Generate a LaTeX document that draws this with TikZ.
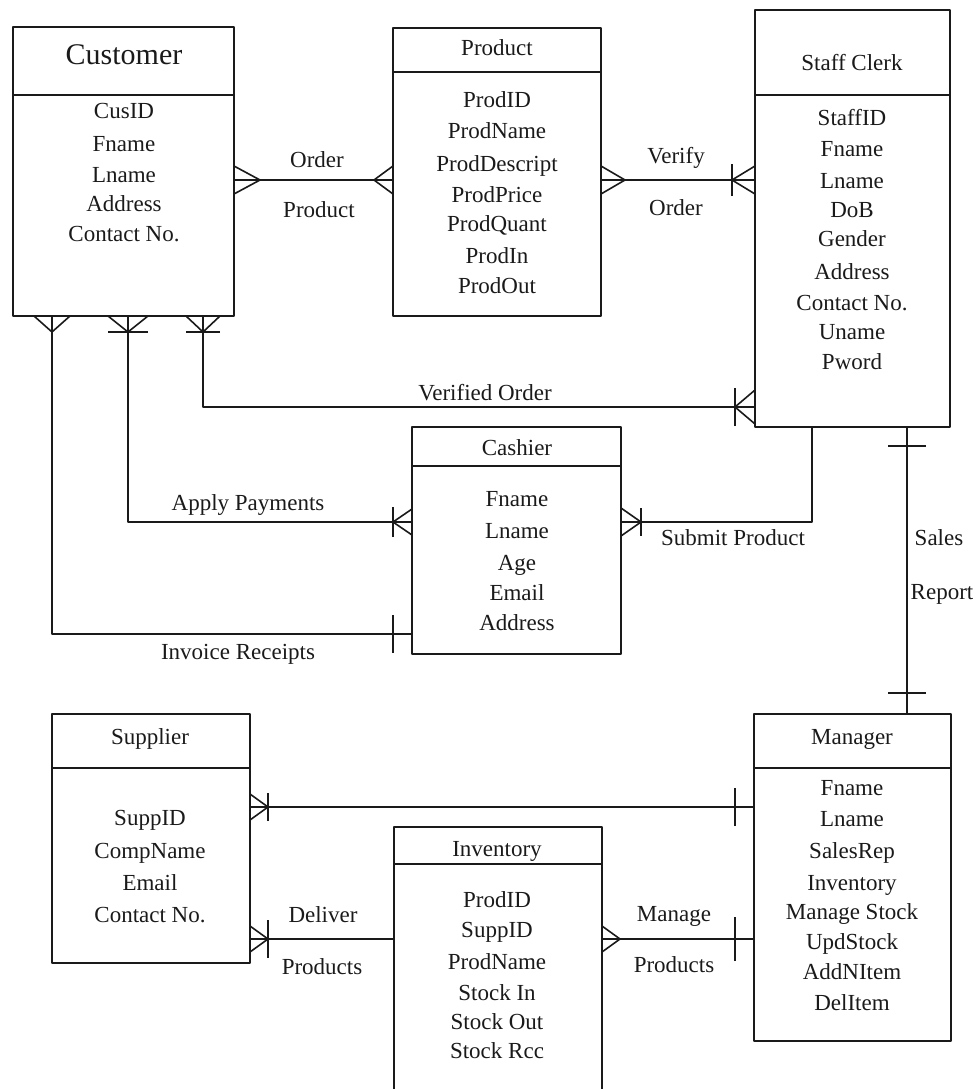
\documentclass[tikz,border=0pt]{standalone}
\usepackage{fontspec}
\setmainfont{Liberation Serif}
\usetikzlibrary{calc}
\definecolor{ink}{HTML}{1A1A1A}
\newcommand{\crowfoot}[4]{\draw[shift={(#1)},rotate=#2] (0,-#3) -- (#4,0) -- (0,#3);}
\newcommand{\crowbar}[4]{\draw[shift={(#1)},rotate=#2] (#4,-#3) -- (#4,#3);}
\begin{document}
\begin{tikzpicture}[x=1pt,y=-1pt,line width=1.6pt,draw=ink,line join=round,
  every node/.style={text=ink},
  ent/.style={draw=ink, rectangle, inner sep=0pt, outer sep=0pt, anchor=north west},
  attr/.style={font=\fontsize{23}{27}\selectfont, anchor=base, inner sep=0pt},
  ttl/.style={font=\fontsize{23}{27}\selectfont, anchor=base, inner sep=0pt},
  bigttl/.style={font=\fontsize{30}{34}\selectfont, anchor=base, inner sep=0pt},
  lbl/.style={font=\fontsize{23}{27}\selectfont, anchor=base, inner sep=0pt}]
\useasboundingbox (0,0) rectangle (976,1089);
\clip (0,0) rectangle (976,1089);

% entity boxes
\node[ent, minimum width=221pt, minimum height=289pt] (cus) at (13,27) {};
\node[ent, minimum width=208pt, minimum height=288pt] (prod) at (393,28) {};
\node[ent, minimum width=195pt, minimum height=417pt] (staff) at (755,10) {};
\node[ent, minimum width=209pt, minimum height=227pt] (cash) at (412,427) {};
\node[ent, minimum width=198pt, minimum height=249pt] (sup) at (52,714) {};
\node[ent, minimum width=208pt, minimum height=300pt] (inv) at (394,827) {};
\node[ent, minimum width=197pt, minimum height=327pt] (mgr) at (754,714) {};

% header lines
\draw (cus.west |- 0,95) -- (cus.east |- 0,95);
\draw (prod.west |- 0,72) -- (prod.east |- 0,72);
\draw (staff.west |- 0,95) -- (staff.east |- 0,95);
\draw (cash.west |- 0,466) -- (cash.east |- 0,466);
\draw (sup.west |- 0,768) -- (sup.east |- 0,768);
\draw (inv.west |- 0,864) -- (inv.east |- 0,864);
\draw (mgr.west |- 0,768) -- (mgr.east |- 0,768);

% titles
\node[bigttl] (cust) at (124,65) {Customer};
\node[ttl] (prodt) at (497,56) {Product};
\node[ttl] (stafft) at (852,71) {Staff Clerk};
\node[ttl] (casht) at (517,455) {Cashier};
\node[ttl] (supt) at (150,744) {Supplier};
\node[ttl] (invt) at (497,856) {Inventory};
\node[ttl] (mgrt) at (852,744) {Manager};

% attributes
\foreach \t/\y [count=\i] in {CusID/119,Fname/151,Lname/182,Address/211,Contact No./241}
  \node[attr] (cusa\i) at (124,\y) {\t};
\foreach \t/\y [count=\i] in {ProdID/108,ProdName/139,ProdDescript/171,ProdPrice/202,ProdQuant/231,ProdIn/263,ProdOut/293}
  \node[attr] (proda\i) at (497,\y) {\t};
\foreach \t/\y [count=\i] in {StaffID/125,Fname/157,Lname/188,DoB/217,Gender/246,Address/279,Contact No./310,Uname/339,Pword/369}
  \node[attr] (staffa\i) at (852,\y) {\t};
\foreach \t/\y [count=\i] in {Fname/506,Lname/538,Age/570,Email/600,Address/630}
  \node[attr] (casha\i) at (517,\y) {\t};
\foreach \t/\y [count=\i] in {SuppID/825,CompName/858,Email/890,Contact No./922}
  \node[attr] (supa\i) at (150,\y) {\t};
\foreach \t/\y [count=\i] in {ProdID/907,SuppID/937,ProdName/969,Stock In/1000,Stock Out/1029,Stock Rcc/1058}
  \node[attr] (inva\i) at (497,\y) {\t};
\foreach \t/\y [count=\i] in {Fname/795,Lname/826,SalesRep/858,Inventory/890,Manage Stock/919,UpdStock/949,AddNItem/979,DelItem/1010}
  \node[attr] (mgra\i) at (852,\y) {\t};

% routing coordinates
\coordinate (yO) at (0,180);
\coordinate (vo) at (203,407);
\coordinate (ap) at (128,522);
\coordinate (ir) at (52,634);
\coordinate (sp) at (812,522);
\coordinate (sr) at (907,0);
\coordinate (sm) at (0,807);
\coordinate (dp) at (0,939);

% connectors
\draw (cus.east |- yO) -- (prod.west |- yO);
\draw (prod.east |- yO) -- (staff.west |- yO);
\draw (cus.south -| vo) -- (vo) -- (staff.west |- vo);
\draw (cus.south -| ap) -- (ap) -- (cash.west |- ap);
\draw (cus.south -| ir) -- (ir) -- (cash.west |- ir);
\draw (cash.east |- sp) -- (sp) -- (staff.south -| sp);
\draw (staff.south -| sr) -- (mgr.north -| sr);
\draw (sup.east |- sm) -- (mgr.west |- sm);
\draw (sup.east |- dp) -- (inv.west |- dp);
\draw (inv.east |- dp) -- (mgr.west |- dp);

% cardinality marks
\crowfoot{cus.east |- yO}{0}{14}{26}
\crowfoot{prod.west |- yO}{180}{14}{19}
\crowfoot{prod.east |- yO}{0}{14}{24}
\crowfoot{staff.west |- yO}{180}{14}{23}
\crowbar{staff.west |- yO}{180}{16}{23}
\crowfoot{cus.south -| ir}{-90}{18}{16}
\crowfoot{cus.south -| ap}{-90}{20}{16}
\crowbar{cus.south -| ap}{-90}{20}{16}
\crowfoot{cus.south -| vo}{-90}{17}{16}
\crowbar{cus.south -| vo}{-90}{17}{16}
\crowfoot{staff.west |- vo}{180}{17}{20}
\crowbar{staff.west |- vo}{180}{19}{20}
\crowfoot{cash.west |- ap}{180}{13}{19}
\crowbar{cash.west |- ap}{180}{15}{19}
\crowbar{cash.west |- ir}{180}{19}{19}
\crowfoot{cash.east |- sp}{0}{14}{20}
\crowbar{cash.east |- sp}{0}{14}{20}
\crowbar{staff.south -| sr}{-90}{19}{19}
\crowbar{mgr.north -| sr}{90}{19}{21}
\crowfoot{sup.east |- sm}{0}{13}{18}
\crowbar{sup.east |- sm}{0}{14}{18}
\crowbar{mgr.west |- sm}{180}{19}{19}
\crowfoot{sup.east |- dp}{0}{13}{18}
\crowbar{sup.east |- dp}{0}{19}{18}
\crowfoot{inv.east |- dp}{0}{13}{18}
\crowbar{mgr.west |- dp}{180}{22}{19}

% relationship labels
\node[lbl] (l1) at (317,167) {Order};
\node[lbl] (l2) at (319,217) {Product};
\node[lbl] (l3) at (676,164) {Verify};
\node[lbl] (l4) at (676,215) {Order};
\node[lbl] (l5) at (485,400) {Verified Order};
\node[lbl] (l6) at (248,510) {Apply Payments};
\node[lbl] (l7) at (238,659) {Invoice Receipts};
\node[lbl] (l8) at (733,545) {Submit Product};
\node[lbl] (l9) at (939,545) {Sales};
\node[lbl] (l10) at (942,599) {Report};
\node[lbl] (l11) at (323,922) {Deliver};
\node[lbl] (l12) at (322,974) {Products};
\node[lbl] (l13) at (674,921) {Manage};
\node[lbl] (l14) at (674,972) {Products};
\end{tikzpicture}
\end{document}
